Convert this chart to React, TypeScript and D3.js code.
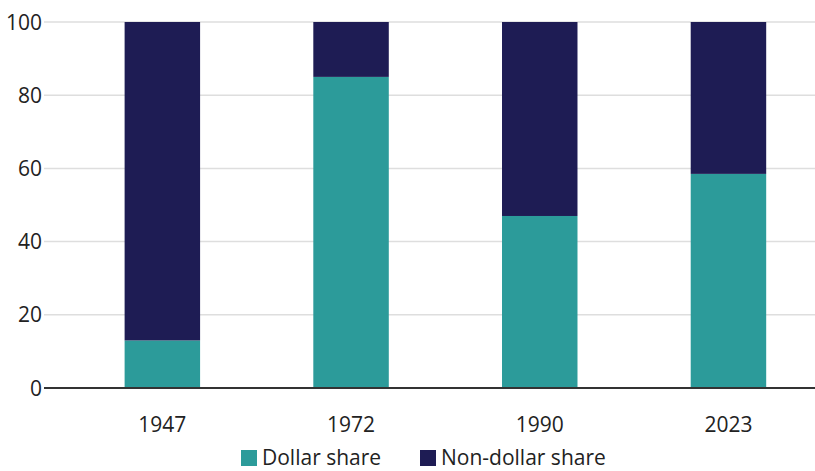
import React from "react";
import * as d3 from "d3";

const years = ["1947", "1972", "1990", "2023"];
const dollarShare = [13, 85, 47, 58.5];
const nonDollarShare = [87, 15, 53, 41.5];
const yTicks = [0, 20, 40, 60, 80, 100];
const seriesNames = ["Dollar share", "Non-dollar share"];
const seriesColors = ["#2C9B9A", "#1E1C54"];

const W = 815;
const H = 471;
const FONT = "'Open Sans', 'Noto Sans', sans-serif";

export default function App() {
  const y = d3.scaleLinear().domain([0, 100]).range([388, 22]);
  const x = d3
    .scaleBand<string>()
    .domain(years)
    .range([68, 822.8])
    .paddingInner(0.6)
    .paddingOuter(0.3);

  const table = years.map((yr, i) => ({
    year: yr,
    "Dollar share": dollarShare[i],
    "Non-dollar share": nonDollarShare[i],
  }));
  const stack = d3.stack<any>().keys(seriesNames)(table);

  return (
    <svg
      width={W}
      height={H}
      style={{ position: "absolute", left: 0, top: 0, display: "block" }}
      fontFamily={FONT}
    >
      <rect width={W} height={H} fill="#fff" />
      {yTicks.map((t) => (
        <g key={t}>
          {t !== 0 && (
            <line x1={44} x2={815} y1={y(t)} y2={y(t)} stroke="#dedede" strokeWidth={1.5} />
          )}
          <text
            x={42}
            y={y(t)}
            dy="0.36em"
            textAnchor="end"
            fontSize={21}
            fill="#222"
          >
            {t}
          </text>
        </g>
      ))}
      {stack.map((s, si) => (
        <g key={s.key} fill={seriesColors[si]}>
          {s.map((d, i) => (
            <rect
              key={i}
              x={x(years[i])}
              width={x.bandwidth()}
              y={y(d[1])}
              height={y(d[0]) - y(d[1])}
            />
          ))}
        </g>
      ))}
      <line x1={44} x2={815} y1={y(0)} y2={y(0)} stroke="#333" strokeWidth={2} />
      {years.map((yr) => (
        <text
          key={yr}
          x={(x(yr) as number) + x.bandwidth() / 2}
          y={432}
          textAnchor="middle"
          fontSize={21}
          fill="#222"
        >
          {yr}
        </text>
      ))}
      <g>
        <rect x={241} y={450} width={16} height={16} fill={seriesColors[0]} />
        <text x={262} y={465} fontSize={21} fill="#222">
          {seriesNames[0]}
        </text>
        <rect x={420} y={450} width={16} height={16} fill={seriesColors[1]} />
        <text x={441} y={465} fontSize={21} fill="#222">
          {seriesNames[1]}
        </text>
      </g>
    </svg>
  );
}
